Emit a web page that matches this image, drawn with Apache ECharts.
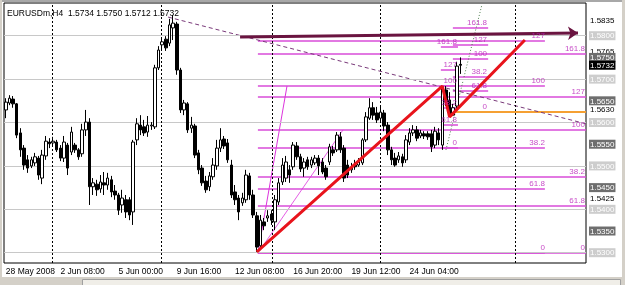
<!DOCTYPE html>
<html><head><meta charset="utf-8">
<script src="https://cdn.jsdelivr.net/npm/echarts@6/dist/echarts.min.js"></script>
<style>html,body{margin:0;padding:0;background:#fff;}#c{width:625px;height:285px;}</style>
</head><body><div id="c"></div>
<script>
// ---- candle data (EURUSDm H4) ----
const openP = [1.5629,1.5645,1.5654,1.5643,1.5576,1.5541,1.5514,1.5500,1.5507,1.5518,
1.5472,1.5523,1.5555,1.5553,1.5555,1.5541,1.5518,1.5548,1.5532,1.5548,
1.5537,1.5528,1.5583,1.5601,1.5452,1.5458,1.5447,1.5461,1.5456,1.5468,
1.5442,1.5433,1.5410,1.5422,1.5422,1.5394,1.5560,1.5594,1.5590,1.5578,
1.5592,1.5590,1.5726,1.5779,1.5792,1.5783,1.5818,1.5827,1.5721,1.5629,
1.5643,1.5587,1.5592,1.5530,1.5495,1.5465,1.5452,1.5475,1.5500,1.5541,
1.5562,1.5553,1.5502,1.5440,1.5426,1.5415,1.5422,1.5477,1.5433,1.5385,
1.5316,1.5371,1.5380,1.5389,1.5371,1.5417,1.5463,1.5472,1.5491,1.5498,
1.5546,1.5521,1.5495,1.5514,1.5502,1.5507,1.5518,1.5509,1.5495,1.5509,
1.5537,1.5537,1.5567,1.5541,1.5502,1.5491,1.5502,1.5502,1.5507,1.5560,
1.5610,1.5634,1.5622,1.5610,1.5622,1.5594,1.5537,1.5518,1.5514,1.5521,
1.5514,1.5555,1.5576,1.5583,1.5569,1.5574,1.5574,1.5574,1.5548,1.5576,
1.5548,1.5675,1.5652,1.5617,1.5638,1.5734];
const closeP = [1.5647,1.5656,1.5643,1.5571,1.5537,1.5502,1.5495,1.5514,1.5521,1.5479,
1.5525,1.5557,1.5551,1.5557,1.5537,1.5518,1.5555,1.5495,1.5578,1.5537,
1.5521,1.5583,1.5601,1.5452,1.5461,1.5445,1.5463,1.5456,1.5472,1.5440,
1.5433,1.5398,1.5426,1.5394,1.5387,1.5555,1.5597,1.5583,1.5576,1.5594,
1.5594,1.5726,1.5767,1.5786,1.5772,1.5825,1.5829,1.5721,1.5629,1.5645,
1.5583,1.5594,1.5525,1.5491,1.5461,1.5445,1.5477,1.5502,1.5541,1.5560,
1.5546,1.5514,1.5433,1.5422,1.5394,1.5426,1.5479,1.5433,1.5387,1.5313,
1.5375,1.5362,1.5385,1.5375,1.5422,1.5461,1.5502,1.5509,1.5479,1.5548,
1.5521,1.5493,1.5509,1.5498,1.5514,1.5518,1.5500,1.5486,1.5475,1.5544,
1.5530,1.5571,1.5537,1.5472,1.5479,1.5495,1.5498,1.5509,1.5560,1.5613,
1.5634,1.5617,1.5606,1.5624,1.5592,1.5537,1.5514,1.5502,1.5523,1.5507,
1.5560,1.5576,1.5583,1.5564,1.5576,1.5569,1.5567,1.5544,1.5580,1.5560,
1.5680,1.5647,1.5617,1.5634,1.5730,1.5732];
const highP = [1.5656,1.5663,1.5661,1.5645,1.5587,1.5548,1.5525,1.5521,1.5530,1.5523,
1.5537,1.5569,1.5564,1.5567,1.5560,1.5548,1.5569,1.5553,1.5590,1.5553,
1.5541,1.5597,1.5629,1.5610,1.5472,1.5468,1.5479,1.5486,1.5484,1.5477,
1.5456,1.5438,1.5445,1.5433,1.5428,1.5560,1.5610,1.5617,1.5606,1.5615,
1.5601,1.5733,1.5776,1.5797,1.5799,1.5839,1.5848,1.5832,1.5726,1.5652,
1.5647,1.5613,1.5597,1.5537,1.5502,1.5477,1.5486,1.5518,1.5560,1.5587,
1.5569,1.5562,1.5514,1.5456,1.5433,1.5438,1.5491,1.5484,1.5445,1.5394,
1.5387,1.5380,1.5398,1.5398,1.5433,1.5472,1.5518,1.5523,1.5502,1.5555,
1.5555,1.5528,1.5518,1.5521,1.5521,1.5525,1.5525,1.5518,1.5502,1.5551,
1.5546,1.5578,1.5578,1.5548,1.5514,1.5507,1.5514,1.5518,1.5564,1.5624,
1.5656,1.5647,1.5636,1.5640,1.5629,1.5601,1.5544,1.5530,1.5532,1.5528,
1.5571,1.5587,1.5594,1.5592,1.5583,1.5580,1.5580,1.5583,1.5590,1.5587,
1.5684,1.5684,1.5670,1.5643,1.5740,1.5750];
const lowP = [1.5610,1.5640,1.5634,1.5564,1.5521,1.5491,1.5484,1.5495,1.5500,1.5468,
1.5458,1.5514,1.5541,1.5544,1.5532,1.5511,1.5509,1.5479,1.5525,1.5530,
1.5514,1.5521,1.5569,1.5410,1.5433,1.5431,1.5438,1.5433,1.5445,1.5428,
1.5422,1.5387,1.5392,1.5380,1.5375,1.5364,1.5548,1.5571,1.5569,1.5567,
1.5583,1.5585,1.5721,1.5767,1.5765,1.5776,1.5790,1.5710,1.5622,1.5617,
1.5576,1.5576,1.5518,1.5481,1.5454,1.5438,1.5442,1.5468,1.5491,1.5532,
1.5539,1.5507,1.5426,1.5410,1.5375,1.5408,1.5415,1.5422,1.5380,1.5302,
1.5306,1.5352,1.5371,1.5364,1.5352,1.5410,1.5456,1.5463,1.5461,1.5491,
1.5514,1.5486,1.5475,1.5491,1.5495,1.5502,1.5479,1.5481,1.5468,1.5502,
1.5523,1.5532,1.5530,1.5463,1.5472,1.5484,1.5491,1.5498,1.5502,1.5555,
1.5606,1.5606,1.5599,1.5601,1.5580,1.5525,1.5502,1.5498,1.5507,1.5498,
1.5507,1.5548,1.5569,1.5557,1.5564,1.5562,1.5560,1.5532,1.5541,1.5548,
1.5537,1.5638,1.5613,1.5615,1.5629,1.5712];

const barSlots = 160;                       // visible bar slots incl. chart shift
const xTickIdx  = [0, 15, 31, 47, 63, 79, 95, 111];
const xTickText = ['28 May 2008','2 Jun 08:00','5 Jun 00:00','9 Jun 16:00','12 Jun 08:00','16 Jun 20:00','19 Jun 12:00','24 Jun 04:00'];

const priceMin = 1.52763, priceMax = 1.58754;
const dashedLevels = [1.5850, 1.5750, 1.5650, 1.5550, 1.5450, 1.5350];
const solidLevels  = [1.5800, 1.5700, 1.5600, 1.5500, 1.5400, 1.5300];
const priceLabels  = [1.5850,1.5835,1.5800,1.5765,1.5750,1.5732,1.5700,1.5650,1.5630,1.5600,1.5550,1.5500,1.5450,1.5425,1.5400,1.5350,1.5300,1.5285];
const priceKinds   = ['d','p','l','p','d','b','l','d','p','l','d','l','d','p','l','d','l','p'];

const separatorX = [12.7, 42.7, 73.2, 102.9, 140.0];

// red zigzag
const zigX = [69, 120, 122, 142.7];
const zigP = [1.5302, 1.5684, 1.5613, 1.5790];

// Fibonacci objects: span (bar index), level prices, texts
const fibASpan = [69.3, 159.5], fibALevels = [1.5299,1.5408,1.5475,1.5583,1.5659,1.5758], fibATexts = ['0','61.8','38.2','100','127','161.8'];
const fibBSpan = [69.3, 148.2], fibBLevels = [1.5299,1.5447,1.5541,1.5684,1.5788],        fibBTexts = ['0','61.8','38.2','100','127'];
const fibCSpan = [122.9, 132.6], fibCLevels = [1.5624,1.5673,1.5705,1.5746,1.5779,1.5818], fibCTexts = ['0','61.8','38.2','100','127','161.8'];
const fibDSpan = [119.6, 124.3], fibDLevels = [1.5541,1.5594,1.5634,1.5684,1.5721,1.5774], fibDTexts = ['0','61.8','38.2','100','127','161.8'];
const orangeLine = {x: [122.9, 159.5], p: 1.5624};

const trendDashX = [44.6, 159.5], trendDashP = [1.5843, 1.5597];
const arrowX = [64.4, 157.3], arrowP = [1.5797, 1.5806];
const fanSteepX = [69.3, 77.3], fanSteepP = [1.5299, 1.5684];
const fanFlatX  = [69.3, 92.7], fanFlatP  = [1.5299, 1.5583];
const dottedX = [121.0, 130.9], dottedP = [1.5537, 1.5872];

const FONT = 'Tahoma, "DejaVu Sans", "Liberation Sans", Arial, sans-serif';
const FONT2 = '"Liberation Sans", Arial, sans-serif';
const MAG = '#d94cd9', MAGTXT = '#b81cb8';

const candles = openP.map((o, i) => [o, closeP[i], lowP[i], highP[i]]);
const cats = Array.from({length: barSlots}, (_, i) => String(i));

function fibLines(span, levels) {
  return levels.map(p => ({coords: [[span[0], p], [span[1], p]]}));
}
function fibLabels(span, levels, texts, dx) {
  return levels.map((p, k) => ({value: [span[1] - (dx || 0), p], label: {formatter: texts[k]}}));
}
function seg(xs, ps) { return {coords: [[xs[0], ps[0]], [xs[1], ps[1]]]}; }

const chart = echarts.init(document.getElementById('c'), null, {renderer: 'canvas'});
chart.setOption({
  animation: false,
  backgroundColor: '#ffffff',
  grid: {left: 4, top: 3, width: 582, height: 260, show: true, borderColor: '#000', borderWidth: 1, backgroundColor: '#fff'},
  xAxis: [
    {type: 'category', data: cats, boundaryGap: true,
     axisLine: {show: false}, axisTick: {show: false}, splitLine: {show: false},
     axisLabel: {interval: (idx) => xTickIdx.includes(idx), formatter: (v, idx) => { const k = xTickIdx.indexOf(+v); return k >= 0 ? xTickText[k] : ''; },
       align: 'left', margin: 4, fontSize: 8.5, fontFamily: FONT2, color: '#000', hideOverlap: false}},
    {type: 'value', min: -0.5, max: barSlots - 0.5, show: false}
  ],
  yAxis: [{type: 'value', min: priceMin, max: priceMax, position: 'right', scale: true,
    axisLine: {show: false}, axisTick: {show: false}, splitLine: {show: false},
    axisLabel: {customValues: priceLabels, margin: 3, fontSize: 8, fontFamily: FONT2, color: '#000',
      formatter: (v) => { const k = priceLabels.findIndex(x => Math.abs(x - v) < 1e-6); const s = v.toFixed(4); return k >= 0 ? '{' + priceKinds[k] + '|' + s + '}' : s; },
      rich: {
        d: {backgroundColor: '#6e6e6e', color: '#ffffff', padding: [1, 1, 0, 1], fontSize: 8, fontFamily: FONT2},
        l: {backgroundColor: '#cdcdcd', color: '#ffffff', padding: [1, 1, 0, 1], fontSize: 8, fontFamily: FONT2},
        b: {backgroundColor: '#000000', color: '#ffffff', padding: [1, 1, 0, 1], fontSize: 8, fontFamily: FONT2},
        p: {color: '#000000', padding: [1, 1, 0, 1], fontSize: 8, fontFamily: FONT2}
      }}}],
  graphic: [
    {type: 'text', left: 7, top: 9, z: 100, style: {text: 'EURUSDm,H4  1.5734 1.5750 1.5712 1.5732', font: '8.5px ' + FONT2, fill: '#000'}},
    {type: 'rect', left: 0, top: 0, z: 100, shape: {width: 625, height: 2}, style: {fill: '#a8a8a8'}},
    {type: 'rect', left: 0, top: 0, z: 100, shape: {width: 2, height: 285}, style: {fill: '#d4d0c8'}},
    {type: 'rect', left: 622, top: 0, z: 100, shape: {width: 3, height: 285}, style: {fill: '#d4d0c8'}},
    {type: 'rect', left: 0, top: 277, z: 100, shape: {width: 625, height: 8}, style: {fill: '#d4d0c8'}},
    {type: 'rect', left: 82, top: 279, z: 101, shape: {width: 538, height: 6}, style: {fill: '#f0eee8', stroke: '#a0a0a0', lineWidth: 1}}
  ],
  series: [
    {type: 'line', xAxisIndex: 0, yAxisIndex: 0, data: [], z: 1, silent: true,
     markLine: {symbol: 'none', silent: true, label: {show: false},
       data: dashedLevels.map(v => ({yAxis: v, lineStyle: {color: '#7a7a7a', type: [3, 2], width: 1}}))
         .concat(solidLevels.map(v => ({yAxis: v, lineStyle: {color: '#c8c8c8', type: 'solid', width: 1}})))}},
    {type: 'line', xAxisIndex: 1, yAxisIndex: 0, data: [], z: 2, silent: true,
     markLine: {symbol: 'none', silent: true, label: {show: false},
       data: separatorX.map(v => ({xAxis: v, lineStyle: {color: '#000', type: [2, 2], width: 1}}))}},
    {type: 'lines', coordinateSystem: 'cartesian2d', xAxisIndex: 1, yAxisIndex: 0, z: 3, silent: true,
     lineStyle: {color: MAG, width: 1.6, opacity: 1},
     data: [].concat(fibLines(fibASpan, fibALevels), fibLines(fibBSpan, fibBLevels), fibLines(fibCSpan, fibCLevels.slice(1)), fibLines(fibDSpan, fibDLevels))},
    {type: 'lines', coordinateSystem: 'cartesian2d', xAxisIndex: 1, yAxisIndex: 0, z: 3, silent: true,
     lineStyle: {color: '#dd33dd', width: 1, opacity: 1},
     data: [seg(fanSteepX, fanSteepP), Object.assign(seg(fanFlatX, fanFlatP), {lineStyle: {width: 0.8, opacity: 1}})]},
    {type: 'lines', coordinateSystem: 'cartesian2d', xAxisIndex: 1, yAxisIndex: 0, z: 3, silent: true,
     lineStyle: {color: '#f5a033', width: 2, opacity: 1},
     data: [{coords: [[orangeLine.x[0], orangeLine.p], [orangeLine.x[1], orangeLine.p]]}]},
    {type: 'lines', coordinateSystem: 'cartesian2d', xAxisIndex: 1, yAxisIndex: 0, z: 3, silent: true,
     lineStyle: {color: '#7a3a7a', width: 1, type: [4, 3], opacity: 1},
     data: [seg(trendDashX, trendDashP)]},
    {type: 'lines', coordinateSystem: 'cartesian2d', xAxisIndex: 1, yAxisIndex: 0, z: 3, silent: true,
     lineStyle: {color: '#4f7f4f', width: 1, type: [1, 2], opacity: 1},
     data: [seg(dottedX, dottedP)]},
    {type: 'candlestick', xAxisIndex: 0, yAxisIndex: 0, data: candles, barWidth: 3, z: 5, silent: true,
     itemStyle: {color: '#ffffff', color0: '#000000', borderColor: '#000000', borderColor0: '#000000', borderWidth: 1}},
    {type: 'line', xAxisIndex: 1, yAxisIndex: 0, z: 6, silent: true, showSymbol: false, symbol: 'none',
     lineStyle: {color: '#e8141c', width: 3}, data: zigX.map((x, i) => [x, zigP[i]])},
    {type: 'lines', coordinateSystem: 'cartesian2d', xAxisIndex: 1, yAxisIndex: 0, z: 6, silent: true,
     symbol: ['none', 'arrow'], symbolSize: 10,
     lineStyle: {color: '#6a1440', width: 3, opacity: 1},
     data: [seg(arrowX, arrowP)]},
    {type: 'scatter', xAxisIndex: 1, yAxisIndex: 0, z: 7, silent: true, symbolSize: 0,
     label: {show: true, position: 'top', align: 'right', distance: 1, color: MAGTXT, fontSize: 8, fontFamily: FONT2},
     data: [].concat(fibLabels(fibASpan, fibALevels, fibATexts, 0.3), fibLabels(fibBSpan, fibBLevels, fibBTexts, 0),
       fibLabels([fibCSpan[0], 132.3], fibCLevels, fibCTexts, 0), fibLabels([fibDSpan[0], 124.0], fibDLevels, fibDTexts, 0))}
  ]
});
</script></body></html>
